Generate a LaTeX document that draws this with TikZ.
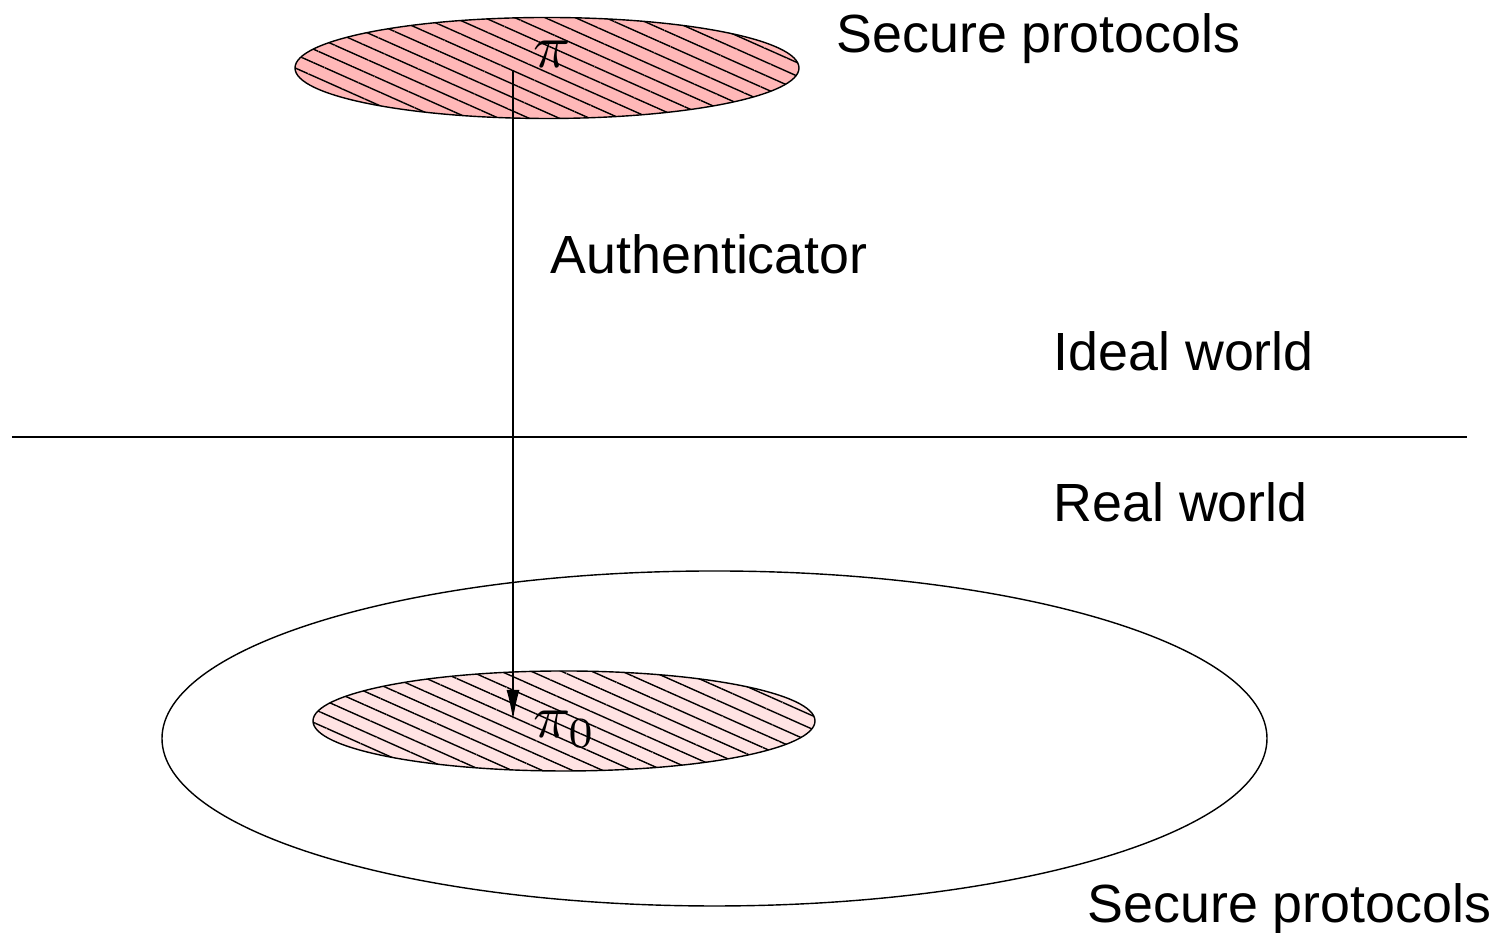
\documentclass[tikz,border=0pt]{standalone}
\usepackage{fontspec}
\setmainfont{Liberation Sans}
\usepackage{tikz}
\usetikzlibrary{shapes.geometric}
\usetikzlibrary{patterns.meta}
\usetikzlibrary{arrows.meta}

\tikzset{
  protoset/.style={ellipse, draw=black, line width=0.4pt, inner sep=0pt},
  hatch/.style={postaction={pattern={Lines[angle=-24, distance=3.5pt, line width=0.4pt]}, pattern color=black}},
  worldlabel/.style={anchor=base west, inner sep=0pt, font=\fontsize{15.3}{18}\selectfont},
  mathlabel/.style={anchor=base west, inner sep=0pt, scale=1.75}
}

\begin{document}
\begin{tikzpicture}

\useasboundingbox (0,0) rectangle (14.97,9.33);

% ellipses
{
\node[protoset, minimum width=11.05cm, minimum height=3.35cm] (allsecure) at (7.145,1.945) {};

\node[protoset, fill=red!28, hatch, minimum width=5.04cm, minimum height=1.01cm] (idealset) at (5.47,8.65) {};

\node[protoset, fill=red!11, hatch, minimum width=5.02cm, minimum height=1.00cm] (realset) at (5.64,2.12) {};
}

% separating line
\coordinate (sepleft) at (0.12,4.96);
\coordinate (sepright) at (14.67,4.96);
\draw[black, line width=0.4pt] (sepleft)--(sepright);

% authenticator arrow
\coordinate (authstart) at (5.13,8.63);
\coordinate (authend) at (5.13,2.13);
\draw[black, line width=0.4pt, -{Latex[length=0.3cm, width=0.13cm]}] (authstart)--(authend);

% nodes
{
\node[mathlabel] (pilabel) at (5.32,8.65) {$\pi$};
\node[mathlabel] (pizerolabel) at (5.32,1.95) {$\pi_0$};

\node[worldlabel] (topsecure) at (8.36,8.80) {Secure protocols};
\node[worldlabel] (authlabel) at (5.50,6.59) {Authenticator};
\node[worldlabel] (ideallabel) at (10.53,5.62) {Ideal world};
\node[worldlabel] (reallabel) at (10.53,4.11) {Real world};
\node[worldlabel] (bottomsecure) at (10.87,0.10) {Secure protocols};
}

\end{tikzpicture}
\end{document}
